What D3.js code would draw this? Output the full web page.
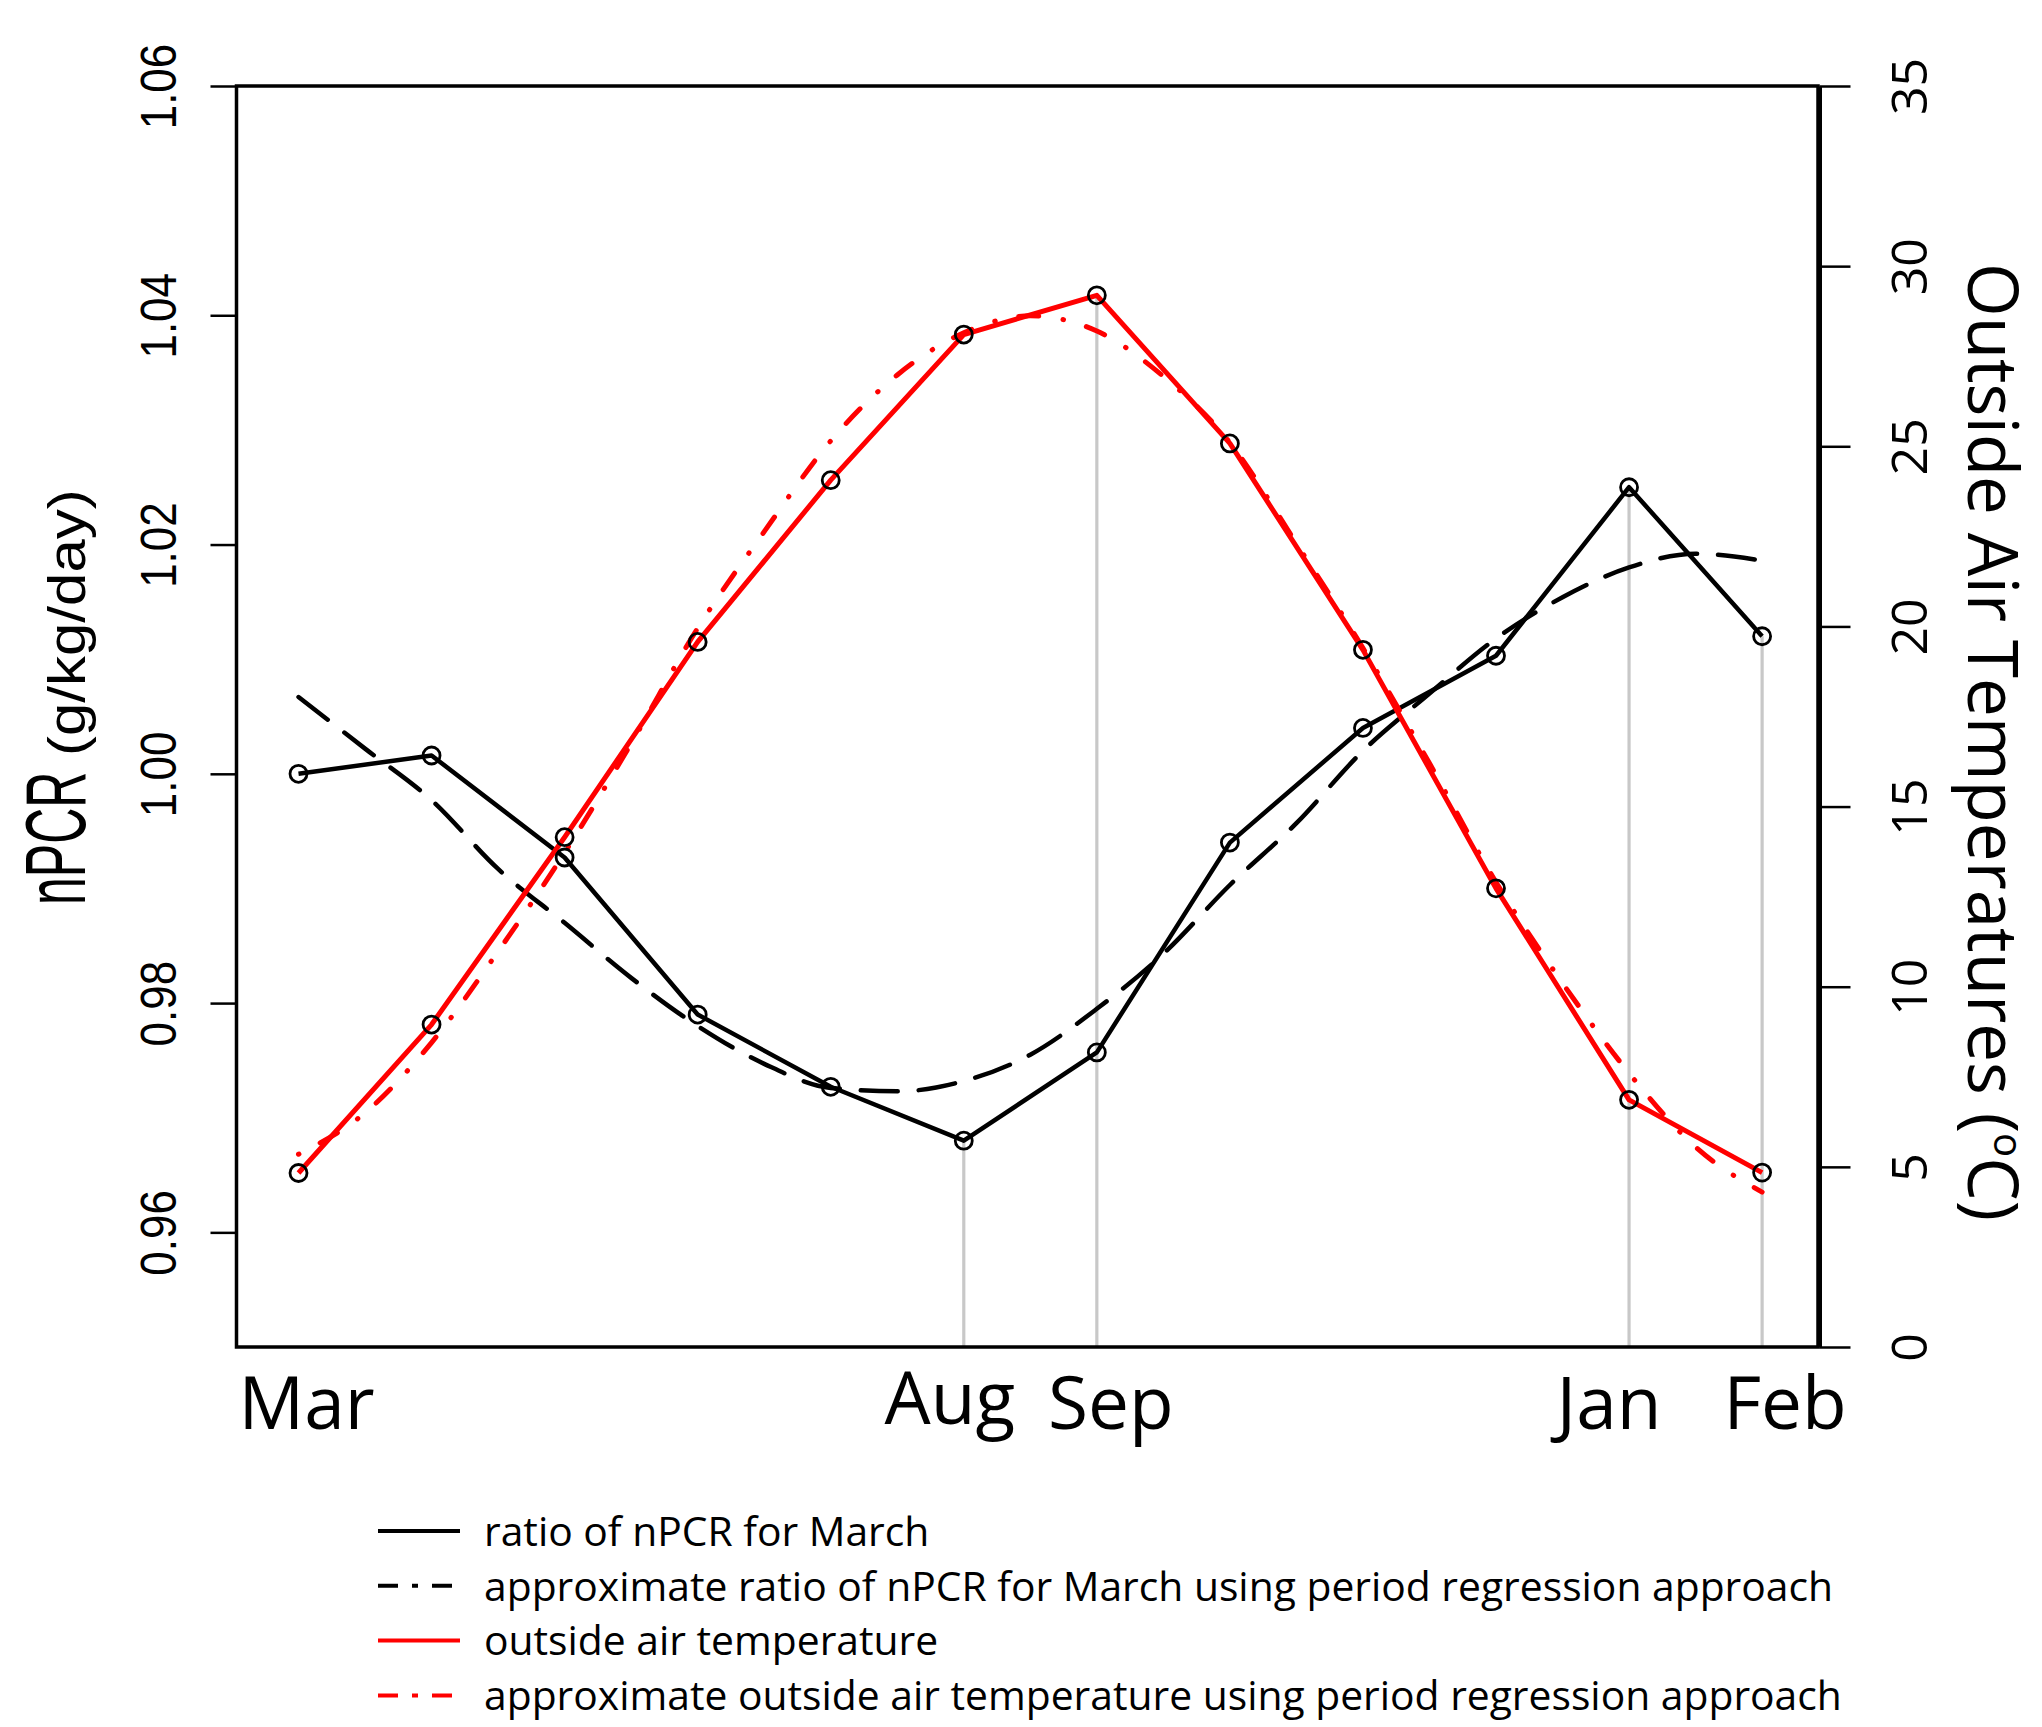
<!DOCTYPE html>
<html>
<head>
  <meta charset="UTF-8">
  <script src="https://cdnjs.cloudflare.com/ajax/libs/d3/7.8.5/d3.min.js"></script>
  <style>
      html, body {
          margin: 0;
          padding: 0;
          background: #fff;
      }
      .lab-arial { font-family: "Liberation Sans", Arial, sans-serif; }
      .lab-open { font-family: "Open Sans", "Noto Sans", sans-serif; }
  </style>
</head>
<body>
<div id="root"></div>
<script>

  // months on the x axis (index 0 = March)
  var months = ["Mar", "Apr", "May", "Jun", "Jul", "Aug", "Sep", "Oct", "Nov", "Dec", "Jan", "Feb"];
  // which month names are printed under the axis
  var labelMonths = ["Mar", "Aug", "Sep", "Jan", "Feb"];

  // ratio of nPCR for March (left axis)
  var npcr = [1.000, 1.0016, 0.9927, 0.9790, 0.9727, 0.9680, 0.9757, 0.9940, 1.0040, 1.0103, 1.0250, 1.0120];
  // outside air temperature, degC (right axis)
  var temp = [4.83, 8.95, 14.15, 19.57, 24.06, 28.10, 29.19, 25.08, 19.35, 12.73, 6.86, 4.84];

  // period regression curves, read every half month
  var fitPos = [0, 0.5, 1, 1.5, 2, 2.5, 3, 3.5, 4, 4.5, 5, 5.5, 6, 6.5, 7, 7.5, 8, 8.5, 9, 9.5, 10, 10.5, 11];
  var npcrFit = [1.0067, 1.0022, 0.9977, 0.9917, 0.9870, 0.9822, 0.9780, 0.9747, 0.9726, 0.9723, 0.9732, 0.9755,
                 0.9795, 0.9843, 0.9903, 0.9957, 1.0020, 1.0070, 1.0118, 1.0154, 1.0180, 1.0192, 1.0186];
  var tempFit = [5.35, 6.5, 8.45, 10.98, 13.72, 16.75, 19.95, 22.63, 25.15, 26.98, 28.15, 28.62,
                 28.2, 26.94, 25.1, 22.3, 19.4, 16.2, 12.9, 10.1, 7.6, 5.55, 4.3];

  // grey drop lines: month index and which series they reach up to
  var dropMonths = [5, 6, 10, 11];
  var dropSeries = ["npcr", "temp", "npcr", "npcr"];

  // tick values
  var npcrTicks = [0.96, 0.98, 1.00, 1.02, 1.04, 1.06];
  var tempTicks = [0, 5, 10, 15, 20, 25, 30, 35];

  var legendLabels = [
    "ratio of nPCR for March",
    "approximate ratio of nPCR for March using period regression approach",
    "outside air temperature",
    "approximate outside air temperature using period regression approach"
  ];

  // ---- layout ----
  var W = 2042, H = 1727;
  var box = {left: 236.5, right: 1818, top: 86, bottom: 1347};

  var x = d3.scaleLinear().domain([-0.466, 11.42]).range([box.left, box.right]);
  var yL = d3.scaleLinear().domain([0.95, 1.06]).range([box.bottom, box.top]);
  var yR = d3.scaleLinear().domain([0, 35]).range([box.bottom, box.top]);

  var svg = d3.select("#root").append("svg")
    .attr("width", W)
    .attr("height", H)
    .style("display", "block");

  svg.append("rect").attr("width", W).attr("height", H).attr("fill", "#fff");

  // grey drop lines
  svg.append("g").selectAll("line")
    .data(dropMonths)
    .enter().append("line")
    .attr("x1", function(d) { return x(d); })
    .attr("x2", function(d) { return x(d); })
    .attr("y1", box.bottom)
    .attr("y2", function(d, i) { return dropSeries[i] == "npcr" ? yL(npcr[d]) : yR(temp[d]); })
    .attr("stroke", "#c8c8c8")
    .attr("stroke-width", 3.2);

  var lineL = d3.line().x(function(d) { return x(d[0]); }).y(function(d) { return yL(d[1]); });
  var lineR = d3.line().x(function(d) { return x(d[0]); }).y(function(d) { return yR(d[1]); });
  var smoothL = d3.line().curve(d3.curveMonotoneX).x(function(d) { return x(d[0]); }).y(function(d) { return yL(d[1]); });
  var smoothR = d3.line().curve(d3.curveMonotoneX).x(function(d) { return x(d[0]); }).y(function(d) { return yR(d[1]); });

  var pts = function(vals) { return vals.map(function(v, i) { return [i, v]; }); };
  var fitPts = function(vals) { return vals.map(function(v, i) { return [fitPos[i], v]; }); };

  // approximate nPCR (dashed)
  svg.append("path")
    .attr("d", smoothL(fitPts(npcrFit)))
    .attr("fill", "none").attr("stroke", "#000").attr("stroke-width", 4.5)
    .attr("stroke-linecap", "round")
    .attr("stroke-dasharray", "37 21");

  // nPCR
  svg.append("path")
    .attr("d", lineL(pts(npcr)))
    .attr("fill", "none").attr("stroke", "#000").attr("stroke-width", 4.5)
    .attr("stroke-linejoin", "round");

  // approximate temperature (dot-dash)
  svg.append("path")
    .attr("d", smoothR(fitPts(tempFit)))
    .attr("fill", "none").attr("stroke", "#ff0000").attr("stroke-width", 5)
    .attr("stroke-linecap", "round")
    .attr("stroke-dasharray", "0.5 24 20 24.5");

  // temperature
  svg.append("path")
    .attr("d", lineR(pts(temp)))
    .attr("fill", "none").attr("stroke", "#ff0000").attr("stroke-width", 5)
    .attr("stroke-linejoin", "round");

  // open circle markers
  var circ = svg.append("g").attr("fill", "none").attr("stroke", "#000").attr("stroke-width", 2.8);
  circ.selectAll(".cl").data(npcr).enter().append("circle")
    .attr("cx", function(d, i) { return x(i); })
    .attr("cy", function(d) { return yL(d); })
    .attr("r", 8.5);
  circ.selectAll(".cr").data(temp).enter().append("circle")
    .attr("cx", function(d, i) { return x(i); })
    .attr("cy", function(d) { return yR(d); })
    .attr("r", 8.5);

  // plot frame
  svg.append("rect")
    .attr("x", box.left).attr("y", box.top)
    .attr("width", box.right - box.left).attr("height", box.bottom - box.top)
    .attr("fill", "none").attr("stroke", "#000").attr("stroke-width", 3.5);

  // left axis
  var axL = svg.append("g")
    .attr("transform", "translate(" + box.left + ",0)")
    .call(d3.axisLeft(yL).tickValues(npcrTicks).tickFormat(d3.format(".2f")).tickSize(26).tickSizeOuter(0));
  axL.select(".domain").remove();
  axL.selectAll(".tick line").attr("stroke", "#000").attr("stroke-width", 2.5);
  axL.selectAll(".tick text")
    .attr("class", "lab-arial")
    .attr("x", null).attr("dy", null)
    .attr("text-anchor", "middle")
    .attr("transform", "translate(-61,0) rotate(-90) scale(1,1.12)")
    .attr("font-size", 44)
    .attr("fill", "#000");

  // right axis
  var axR = svg.append("g")
    .attr("transform", "translate(" + (box.right + 1.5) + ",0)")
    .call(d3.axisRight(yR).tickValues(tempTicks).tickSize(31).tickSizeOuter(0));
  axR.select(".domain").attr("stroke", "#000").attr("stroke-width", 4);
  axR.selectAll(".tick line").attr("stroke", "#000").attr("stroke-width", 2.5);
  axR.selectAll(".tick text")
    .attr("class", "lab-open")
    .attr("x", null).attr("dy", null)
    .attr("text-anchor", "middle")
    .attr("transform", "translate(107,0) rotate(-90)")
    .attr("font-size", 50)
    .attr("fill", "#000");

  // month labels (hand placed around their month in the original)
  var monthShift = {Mar: 8, Aug: -14, Sep: 14, Jan: -20, Feb: 23};
  var monthLift = {Aug: -5};
  svg.append("g").selectAll("text")
    .data(labelMonths)
    .enter().append("text")
    .attr("class", "lab-open")
    .attr("x", function(d) { return x(months.indexOf(d)) + monthShift[d]; })
    .attr("y", function(d) { return 1429 + (monthLift[d] || 0); })
    .attr("text-anchor", "middle")
    .attr("font-size", 73)
    .attr("fill", "#000")
    .text(function(d) { return d; });

  // left axis title: large "nPCR", smaller unit after it
  svg.append("text")
    .attr("class", "lab-arial")
    .attr("transform", "translate(85,905) rotate(-90) scale(1,1.7)")
    .attr("font-size", 50)
    .attr("fill", "#000")
    .text("nPCR");
  svg.append("text")
    .attr("class", "lab-arial")
    .attr("transform", "translate(85,756) rotate(-90) scale(1,0.85)")
    .attr("font-size", 60)
    .attr("fill", "#000")
    .text("(g/kg/day)");

  // right axis title (kept just inside the right edge)
  var tR = svg.append("text")
    .attr("class", "lab-open")
    .attr("transform", "translate(1968,742) rotate(90)")
    .attr("text-anchor", "middle")
    .attr("font-size", 69)
    .attr("fill", "#000");
  tR.append("tspan").text("Outside Air Temperatures (");
  tR.append("tspan").attr("font-size", 40).attr("dy", -26).text("o");
  tR.append("tspan").attr("dy", 26).text("C)");

  // legend
  var legStroke = ["#000", "#000", "#ff0000", "#ff0000"];
  var legDash = [null, "20 14 6 14", null, "20 14 6 14"];
  var leg = svg.append("g").selectAll("g")
    .data(legendLabels)
    .enter().append("g")
    .attr("transform", function(d, i) { return "translate(0," + (1531 + i * 54.8) + ")"; });
  leg.append("line")
    .attr("x1", 378).attr("x2", 460)
    .attr("stroke", function(d, i) { return legStroke[i]; })
    .attr("stroke-width", 4)
    .attr("stroke-dasharray", function(d, i) { return legDash[i]; });
  leg.append("text")
    .attr("class", "lab-open")
    .attr("x", 484)
    .attr("dy", "0.36em")
    .attr("font-size", 40.8)
    .attr("fill", "#000")
    .text(function(d) { return d; });

</script>
</body>
</html>
